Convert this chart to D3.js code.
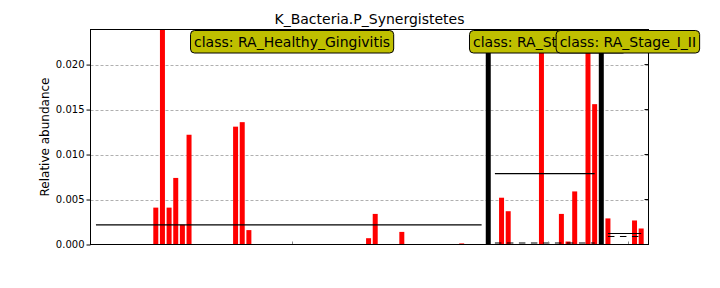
<!DOCTYPE html>
<html>
<head>
<meta charset="utf-8">
<script src="https://cdn.jsdelivr.net/npm/d3@7"></script>
<style>
	body { margin: 0; background: #fff; }
	text { font-family: "DejaVu Sans", sans-serif; }
</style>
</head>
<body>
<svg width="720" height="288"></svg>
<script>
var title = "K_Bacteria.P_Synergistetes";
var yLabel = "Relative abundance";
var classes = ["RA_Healthy_Gingivitis", "RA_Stage_III_IV", "RA_Stage_I_II"];
var yTicks = [0, 0.005, 0.010, 0.015, 0.020];

// one value per sample (zeros where no bar)
var healthy = [0,0,0,0,0,0,0,0,0, 0.0041,0.065,0.0041,0.0074,0.0022,0.0122, 0,0,0,0,0,0,
	0.0131,0.0136,0.0016, 0,0,0,0,0,0,0,0,0,0,0,0,0,0,0,0,0, 0.0007,0.0034, 0,0,0, 0.0014,
	0,0,0,0,0,0,0,0, 0.00012, 0,0,0];
var stage3 = [0,0.0052,0.0037,0,0,0,0,0.048,0,0,0.0034,0.00033,0.0059,0,0.044,0.0156];
var stage1 = [0.0029,0,0,0,0.00267,0.00178];
var groups = [healthy, stage3, stage1];

var pLeft = 90.5, pRight = 648.5, pTop = 29.5, pBottom = 244.5;
var svg = d3.select("svg");

// lay out samples: separator slot between classes
var samples = [], seps = [], spans = [];
var pos = 1;
groups.forEach(function(g, gi){
	var start = pos;
	g.forEach(function(v){ samples.push({i: pos, v: v}); pos++; });
	spans.push({start: start, end: pos - 1, next: pos, g: g, name: classes[gi]});
	if(gi < groups.length - 1){ seps.push(pos); pos++; }
});

var x = d3.scaleLinear().domain([0.18, 84.1]).range([pLeft, pRight]);
var y = d3.scaleLinear().domain([0, 0.0239]).range([pBottom, pTop]);
var bw = (x(1) - x(0)) * 0.75;

svg.append("clipPath").attr("id", "clip")
	.append("rect").attr("x", pLeft).attr("y", pTop).attr("width", pRight - pLeft).attr("height", pBottom - pTop);

// grid
svg.selectAll(".grid")
	.data(yTicks.slice(1))
	.enter()
	.append("line")
	.attr("x1", pLeft).attr("x2", pRight)
	.attr("y1", d => Math.round(y(d)) + 0.5).attr("y2", d => Math.round(y(d)) + 0.5)
	.style("stroke", "#b0b0b0")
	.style("stroke-dasharray", "3,2");

var plot = svg.append("g").attr("clip-path", "url(#clip)");

plot.selectAll(".bar")
	.data(samples.filter(d => d.v > 0))
	.enter()
	.append("rect")
	.attr("x", d => x(d.i) - bw/2)
	.attr("width", bw)
	.attr("y", d => y(d.v))
	.attr("height", d => pBottom - y(d.v))
	.style("fill", "#ff0000");

plot.selectAll(".sep")
	.data(seps)
	.enter()
	.append("rect")
	.attr("x", d => x(d) - bw/2)
	.attr("width", bw)
	.attr("y", pTop)
	.attr("height", pBottom - pTop)
	.style("fill", "#000");

// mean (solid) and median (dashed) per class
plot.selectAll(".mean")
	.data(spans)
	.enter()
	.append("line")
	.attr("x1", d => x(d.start)).attr("x2", d => x(d.end))
	.attr("y1", d => y(d3.mean(d.g))).attr("y2", d => y(d3.mean(d.g)))
	.style("stroke", "#000").style("stroke-width", 1.2);

plot.selectAll(".median")
	.data(spans)
	.enter()
	.append("line")
	.attr("x1", d => x(d.start)).attr("x2", d => x(d.end))
	.attr("y1", d => y(d3.median(d.g))).attr("y2", d => y(d3.median(d.g)))
	.style("stroke", "#000").style("stroke-width", 1.2)
	.style("stroke-dasharray", "6.5,5.5");

// x ticks at class centres
var cx = d => x((d.start + d.next) / 2);
var cxr = d => Math.round(cx(d)) + 0.5;
svg.selectAll(".xtb")
	.data(spans).enter().append("line")
	.attr("x1", cxr).attr("x2", cxr).attr("y1", pBottom).attr("y2", pBottom - 3)
	.style("stroke", "#888");
svg.selectAll(".xtt")
	.data(spans).enter().append("line")
	.attr("x1", cxr).attr("x2", cxr).attr("y1", pTop).attr("y2", pTop + 3)
	.style("stroke", "#888");

// y axis
var yAxis = d3.axisLeft(y).tickValues(yTicks).tickFormat(d3.format(".3f")).tickSize(4).tickPadding(2);
var ga = svg.append("g").attr("transform", "translate(" + pLeft + ",0)").call(yAxis);
ga.select(".domain").remove();
ga.selectAll("text").style("font-size", "10px").style("font-family", "DejaVu Sans, sans-serif").attr("fill", "#000");
ga.selectAll("line").style("stroke", "#000");

svg.selectAll(".ytr")
	.data(yTicks).enter().append("line")
	.attr("x1", pRight - 4).attr("x2", pRight)
	.attr("y1", d => y(d)).attr("y2", d => y(d))
	.style("stroke", "#000");

svg.append("rect")
	.attr("x", pLeft).attr("y", pTop)
	.attr("width", pRight - pLeft).attr("height", pBottom - pTop)
	.style("fill", "none").style("stroke", "#000");

svg.append("text")
	.attr("x", (pLeft + pRight) / 2).attr("y", 24)
	.attr("text-anchor", "middle")
	.style("font-size", "14px")
	.text(title);

svg.append("text")
	.attr("transform", "translate(45," + (pTop + pBottom) / 2 + ") rotate(-90)")
	.attr("text-anchor", "middle")
	.attr("dominant-baseline", "central")
	.style("font-size", "12px")
	.text(yLabel);

// class labels
spans.forEach(function(s){
	var g = svg.append("g");
	var r = g.append("rect");
	var t = g.append("text")
		.attr("x", cx(s)).attr("y", 46.5)
		.attr("text-anchor", "middle")
		.style("font-size", "14px")
		.text("class: " + s.name);
	var w = t.node().getComputedTextLength();
	r.attr("x", cx(s) - w/2 - 3.5).attr("y", 30.5)
		.attr("width", w + 7).attr("height", 22.5)
		.attr("rx", 4).attr("ry", 4)
		.style("fill", "#bfbf00").style("stroke", "#000").style("stroke-width", 1);
});
</script>
</body>
</html>
